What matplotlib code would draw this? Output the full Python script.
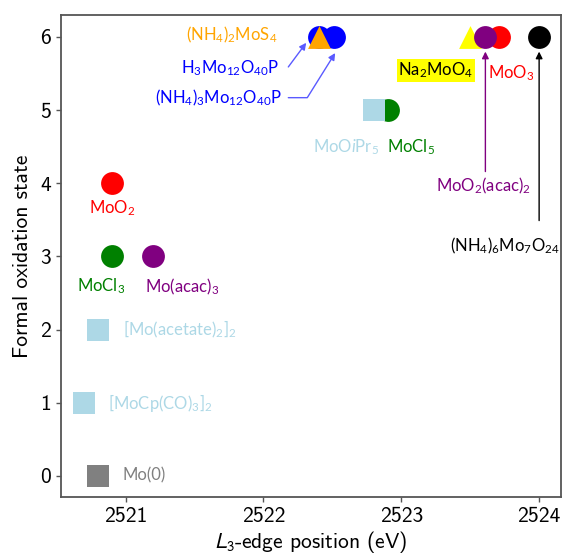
import matplotlib
matplotlib.use("Agg")
import matplotlib.pyplot as plt

plt.rcParams["mathtext.fontset"] = "custom"
plt.rcParams["mathtext.rm"] = "Lato"
plt.rcParams["mathtext.it"] = "Lato:italic"
plt.rcParams["mathtext.bf"] = "Lato:bold"

# (x eV, oxidation state, marker, colour), in drawing order
names = ["MoO3", "Na2MoO4", "MoO2(acac)2", "(NH4)6Mo7O24",
         "H3Mo12O40P", "(NH4)3Mo12O40P", "(NH4)2MoS4",
         "MoCl5", "MoOiPr5",
         "MoO2", "MoCl3", "Mo(acac)3",
         "[Mo(acetate)2]2", "[MoCp(CO)3]2", "Mo(0)"]
edge_ev = [2523.71, 2523.50, 2523.61, 2524.00,
           2522.40, 2522.51, 2522.40,
           2522.90, 2522.80,
           2520.90, 2520.90, 2521.20,
           2520.80, 2520.70, 2520.80]
ox_state = [6, 6, 6, 6,
            6, 6, 6,
            5, 5,
            4, 3, 3,
            2, 1, 0]
markers = ["o", "^", "o", "o",
           "o", "o", "^",
           "o", "s",
           "o", "o", "o",
           "s", "s", "s"]
colors = ["red", "yellow", "purple", "black",
          "blue", "blue", "orange",
          "green", "lightblue",
          "red", "green", "purple",
          "lightblue", "lightblue", "gray"]

# labels: text, x, y, colour, horizontal alignment
label_text = [r"MoO$_2$", r"MoCl$_3$", r"Mo(acac)$_3$",
              r"[Mo(acetate)$_2$]$_2$", r"[MoCp(CO)$_3$]$_2$", "Mo(0)",
              r"MoO$\mathit{i}$Pr$_5$", r"MoCl$_5$",
              r"MoO$_2$(acac)$_2$", r"(NH$_4$)$_6$Mo$_7$O$_{24}$",
              r"MoO$_3$", r"(NH$_4$)$_2$MoS$_4$",
              r"H$_3$Mo$_{12}$O$_{40}$P", r"(NH$_4$)$_3$Mo$_{12}$O$_{40}$P"]
label_x = [2520.90, 2520.82, 2521.41,
           2520.98, 2520.87, 2520.98,
           2522.60, 2523.07,
           2523.60, 2523.75,
           2523.80, 2521.77,
           2521.76, 2521.67]
label_y = [3.66, 2.59, 2.59,
           2.0, 1.0, 0.0,
           4.49, 4.49,
           3.96, 3.14,
           5.51, 6.03,
           5.58, 5.17]
label_color = ["red", "green", "purple",
               "lightblue", "lightblue", "gray",
               "lightblue", "green",
               "purple", "black",
               "red", "orange",
               "blue", "blue"]
label_ha = ["center", "center", "center",
            "left", "left", "left",
            "center", "center",
            "center", "center",
            "center", "center",
            "center", "center"]

fig = plt.figure(figsize=(5.64, 5.56), dpi=100)
ax = fig.add_axes([0.108, 0.106, 0.887, 0.867])

for x, y, m, c in zip(edge_ev, ox_state, markers, colors):
    ax.scatter(x, y, s=270, marker=m, color=c, linewidths=0, zorder=3)

for t, x, y, c, ha in zip(label_text, label_x, label_y, label_color, label_ha):
    ax.text(x, y, t, color=c, ha=ha, va="center", fontsize=12,
            family="Lato", math_fontfamily="custom")

ax.text(2523.25, 5.54, r"Na$_2$MoO$_4$", color="black", ha="center", va="center",
        fontsize=12, family="Lato", math_fontfamily="custom",
        bbox=dict(facecolor="yellow", edgecolor="none", pad=1.0))

# arrows
blue_arrow = dict(arrowstyle="-|>", color="#5a5aff", lw=1.0, mutation_scale=10,
                  shrinkA=0, shrinkB=0)
ax.annotate("", xy=(2522.31, 5.92), xytext=(2522.18, 5.59), arrowprops=blue_arrow)
ax.annotate("", xy=(2522.52, 5.78), xytext=(2522.18, 5.17),
            arrowprops=dict(blue_arrow, connectionstyle="angle,angleA=0,angleB=58,rad=0"))
ax.annotate("", xy=(2523.61, 5.80), xytext=(2523.61, 4.16),
            arrowprops=dict(arrowstyle="-|>", color="purple", lw=1.0, mutation_scale=10,
                            shrinkA=0, shrinkB=0))
ax.annotate("", xy=(2524.0, 5.80), xytext=(2524.0, 3.49),
            arrowprops=dict(arrowstyle="-|>", color="black", lw=1.0, mutation_scale=10,
                            shrinkA=0, shrinkB=0))

ax.set_xlim(2520.53, 2524.16)
ax.set_ylim(-0.29, 6.30)
ax.set_xticks([2521, 2522, 2523, 2524])
ax.set_yticks(range(0, 7))

for sp in ax.spines.values():
    sp.set_color("#555555")
    sp.set_linewidth(1.3)
ax.tick_params(direction="out", length=3.5, width=1, color="#555555", labelsize=15.5)
for lab in ax.get_xticklabels() + ax.get_yticklabels():
    lab.set_family("cmss10")

ax.set_xlabel(r"$L_3$-edge position (eV)", fontsize=15.5, family="cmss10",
              math_fontfamily="stixsans", labelpad=2)
ax.set_ylabel("Formal oxidation state", fontsize=15.5, family="cmss10", labelpad=6)

fig.savefig("out.png", dpi=100)
